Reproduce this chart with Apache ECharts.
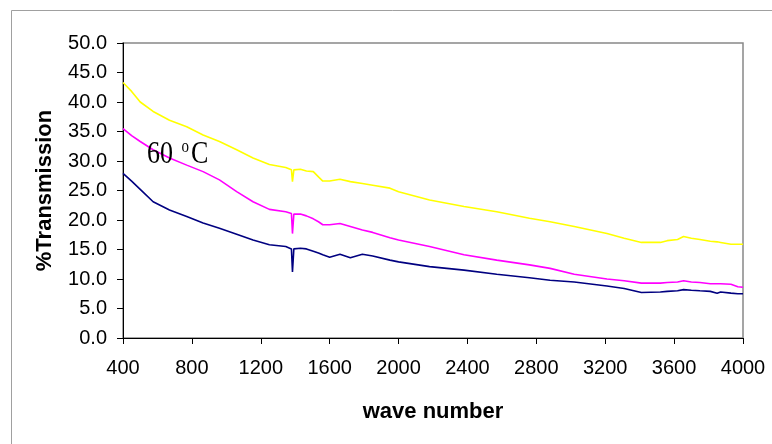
<!DOCTYPE html>
<html>
<head>
<meta charset="utf-8">
<script src="https://cdn.jsdelivr.net/npm/echarts@6/dist/echarts.min.js"></script>
<style>
html,body{margin:0;padding:0;background:#fff;}
#chart{width:772px;height:444px;}
</style>
</head>
<body>
<div id="chart"></div>
<script>
// wave numbers (x) shared by all series
var waveNumbers = [400,450,500,575,670,770,865,960,1060,1155,1250,1345,1378,1384,1392,1430,1465,1505,1535,1560,1600,1660,1720,1790,1850,1950,2000,2180,2380,2570,2760,2880,3020,3210,3310,3410,3520,3560,3620,3655,3700,3750,3810,3850,3870,3930,3970,4000];
var yellowSeries = [43.3,41.8,40.0,38.4,36.9,35.8,34.4,33.3,31.9,30.5,29.4,28.9,28.5,26.5,28.5,28.6,28.3,28.2,27.3,26.6,26.6,26.9,26.5,26.2,25.9,25.4,24.8,23.4,22.3,21.4,20.3,19.7,18.9,17.7,16.9,16.2,16.2,16.5,16.7,17.2,16.9,16.7,16.4,16.3,16.2,15.9,15.9,15.9];
var magentaSeries = [35.5,34.3,33.3,31.9,30.5,29.3,28.2,26.8,24.8,23.1,21.8,21.4,21.1,17.7,21.0,21.0,20.7,20.2,19.7,19.2,19.2,19.4,18.9,18.3,17.9,17.0,16.6,15.5,14.1,13.2,12.4,11.8,10.8,10.0,9.7,9.3,9.3,9.4,9.5,9.7,9.5,9.4,9.2,9.2,9.2,9.1,8.7,8.6];
var navySeries = [27.9,26.6,25.2,23.1,21.7,20.6,19.5,18.6,17.6,16.6,15.8,15.5,15.1,11.2,15.1,15.2,15.1,14.7,14.4,14.1,13.7,14.2,13.6,14.2,13.9,13.2,12.9,12.1,11.5,10.8,10.2,9.8,9.5,8.8,8.4,7.7,7.8,7.9,8.0,8.2,8.1,8.0,7.9,7.6,7.8,7.6,7.5,7.5];
var xTicks = [400,800,1200,1600,2000,2400,2800,3200,3600,4000];
var yTicks = [0,5,10,15,20,25,30,35,40,45,50];
var xAxisName = 'wave number';
var yAxisName = '%Transmission';
var annotation = '{n|60 }{s|o}{n|C}';

function pairs(ys){ return waveNumbers.map(function(x,i){ return [x, ys[i]]; }); }

var chart = echarts.init(document.getElementById('chart'), null, {renderer:'canvas'});
var sans = 'Liberation Sans, Arial, sans-serif';
var serif = 'Liberation Serif, Times New Roman, serif';
chart.setOption({
  animation:false,
  backgroundColor:'#fff',
  grid:{left:123,right:29,top:43,bottom:106,show:true,borderColor:'#888',borderWidth:1.5,backgroundColor:'transparent'},
  xAxis:{
    type:'value', min:xTicks[0], max:xTicks[xTicks.length-1], interval:400,
    name:xAxisName, nameLocation:'middle', nameGap:63,
    nameTextStyle:{fontFamily:sans,fontWeight:'bold',fontSize:22,color:'#000'},
    axisLine:{show:true,onZero:false,lineStyle:{color:'#000',width:1}},
    axisTick:{show:true,inside:false,length:6,lineStyle:{color:'#000'}},
    axisLabel:{fontFamily:sans,fontSize:20,color:'#000',margin:20,formatter:function(v){return String(v);}},
    splitLine:{show:false}
  },
  yAxis:{
    type:'value', min:yTicks[0], max:yTicks[yTicks.length-1], interval:5,
    name:yAxisName, nameLocation:'middle', nameGap:67,
    nameTextStyle:{fontFamily:sans,fontWeight:'bold',fontSize:22,color:'#000'},
    axisLine:{show:true,onZero:false,lineStyle:{color:'#000',width:1}},
    axisTick:{show:true,inside:false,length:6,lineStyle:{color:'#000'}},
    axisLabel:{fontFamily:sans,fontSize:20,color:'#000',margin:16,formatter:function(v){return v.toFixed(1);}},
    splitLine:{show:false}
  },
  graphic:[
    {type:'rect',left:9,top:8,shape:{x:0,y:0,width:800,height:500},style:{fill:'none',stroke:'#a0a0a0',lineWidth:1},silent:true,z:-10},
    {type:'text',x:147,y:138,scaleY:1.25,z:10,silent:true,
      style:{text:annotation,fill:'#000',
        rich:{
          n:{fontFamily:serif,fontSize:26,lineHeight:26,padding:[8,0,0,0],verticalAlign:'bottom'},
          s:{fontFamily:serif,fontSize:15,lineHeight:15,padding:[0,2,0,2],verticalAlign:'top'}
        }}}
  ],
  series:[
    {type:'line',name:'a',data:pairs(yellowSeries),showSymbol:false,symbol:'none',lineStyle:{color:'#FFFF00',width:1.6},itemStyle:{color:'#FFFF00'}},
    {type:'line',name:'b',data:pairs(magentaSeries),showSymbol:false,symbol:'none',lineStyle:{color:'#FF00FF',width:1.6},itemStyle:{color:'#FF00FF'}},
    {type:'line',name:'c',data:pairs(navySeries),showSymbol:false,symbol:'none',lineStyle:{color:'#000080',width:1.6},itemStyle:{color:'#000080'}}
  ]
});
</script>
</body>
</html>
